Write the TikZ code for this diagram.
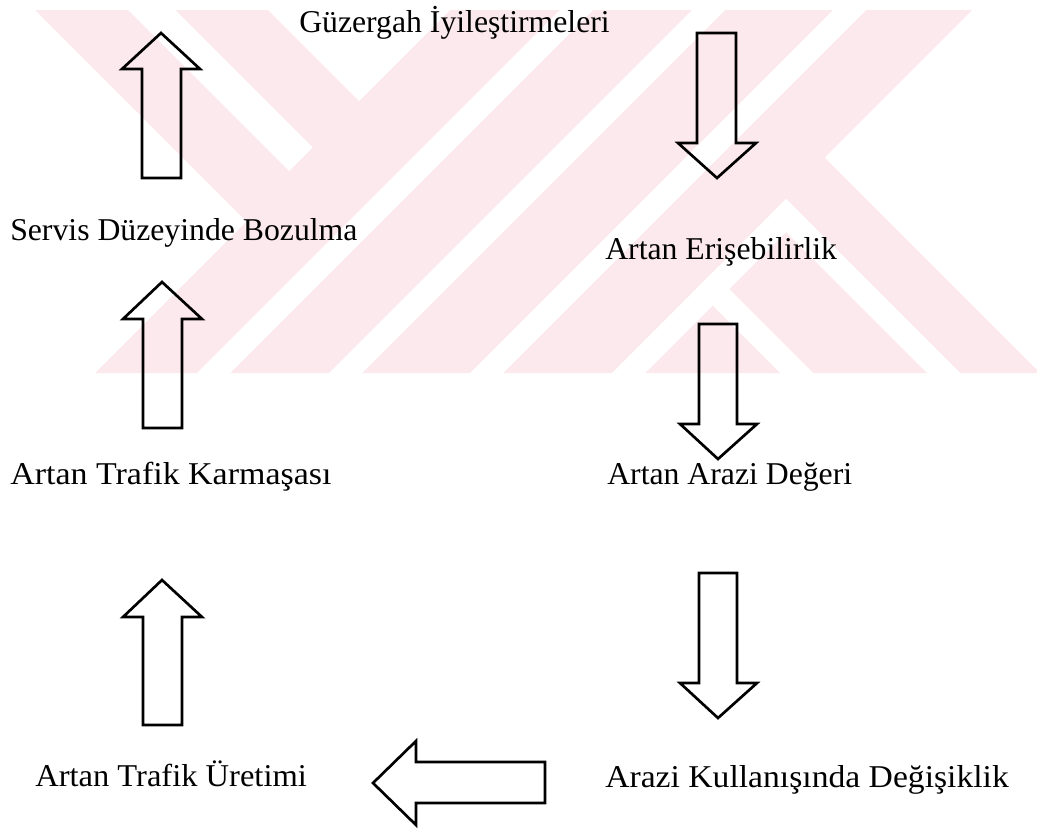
\documentclass[tikz,border=0pt]{standalone}
\usepackage{fontspec}
\setmainfont{Liberation Serif}
\definecolor{wmpink}{RGB}{252,233,237}
\begin{document}
\begin{tikzpicture}[x=0.75pt,y=-0.75pt,
  label/.style={anchor=base west, inner sep=0pt, font=\fontsize{23.8}{28}\selectfont},
  blockarrow/.style={draw=black, line width=2pt, line join=miter},
  wmfill/.style={fill=wmpink},
  wmgap/.style={fill=white}]
\useasboundingbox (0,0) rectangle (1037,828);
\fill[white] (0,0) rectangle (1037,828);

% pale watermark band across the top of the page
\begin{scope}
  \clip (0,10) rectangle (1037,373);
  \fill[wmfill] (35,10) -- (246.5,221.5) -- (95,373) -- (1040,373)
        -- (824.5,157.5) -- (972,10) -- cycle;
  % upper-left strokes
  \fill[wmgap] (118,0) -- (165,0) -- (312.5,147.5) -- (289,171) -- cycle;
  \fill[wmgap] (258,0) -- (460,0) -- (359,101) -- cycle;
  % long rising strokes
  \fill[wmgap] (570,0) -- (603,0) -- (203,400) -- (170,400) -- cycle;
  \fill[wmgap] (702,0) -- (735,0) -- (335,400) -- (302,400) -- cycle;
  \fill[wmgap] (843,0) -- (876,0) -- (476,400) -- (443,400) -- cycle;
  % lower-right strokes
  \fill[wmgap] (786,199) -- (802.5,215.5) -- (618,400) -- (585,400) -- cycle;
  \fill[wmgap] (769.5,215.5) -- (786,199) -- (987,400) -- (954,400) -- cycle;
  \fill[wmgap] (696,289) -- (712.5,272.5) -- (840,400) -- (807,400) -- cycle;
\end{scope}

% labels
\node[label] (guz)    at (299,32.5) {Güzergah İyileştirmeleri};
\node[label] (servis) at (10,240)   {Servis Düzeyinde Bozulma};
\node[label] (eris)   at (605,259)  {Artan Erişebilirlik};
\node[label, xscale=1.07, transform shape] (karm) at (10,484) {Artan Trafik Karmaşası};
\node[label] (deger)  at (607,484)  {Artan Arazi Değeri};
\node[label, xscale=1.025, transform shape] (uret) at (35,786) {Artan Trafik Üretimi};
\node[label, xscale=1.06, transform shape] (kull) at (605,787) {Arazi Kullanışında Değişiklik};

% block arrows, left column (upwards)
\draw[blockarrow] (142,178) -- (142,69) -- (122,69) -- (161,33) -- (200,69)
      -- (181,69) -- (181,178) -- cycle;
\draw[blockarrow] (143,428) -- (143,319) -- (123,319) -- (162,282) -- (202,319)
      -- (182,319) -- (182,428) -- cycle;
\draw[blockarrow] (143,725) -- (143,617) -- (123,617) -- (162,580) -- (202,617)
      -- (182,617) -- (182,725) -- cycle;

% block arrows, right column (downwards)
\draw[blockarrow] (697,33) -- (736,33) -- (736,143) -- (756,143) -- (717,178)
      -- (678,143) -- (697,143) -- cycle;
\draw[blockarrow] (699,324) -- (737,324) -- (737,424) -- (757,424) -- (718,459)
      -- (680,424) -- (699,424) -- cycle;
\draw[blockarrow] (699,573) -- (737,573) -- (737,683) -- (757,683) -- (718,718)
      -- (680,683) -- (699,683) -- cycle;

% block arrow along the bottom (leftwards)
\draw[blockarrow] (545,762) -- (416,762) -- (416,741) -- (373,783) -- (416,825)
      -- (416,803) -- (545,803) -- cycle;
\end{tikzpicture}
\end{document}
